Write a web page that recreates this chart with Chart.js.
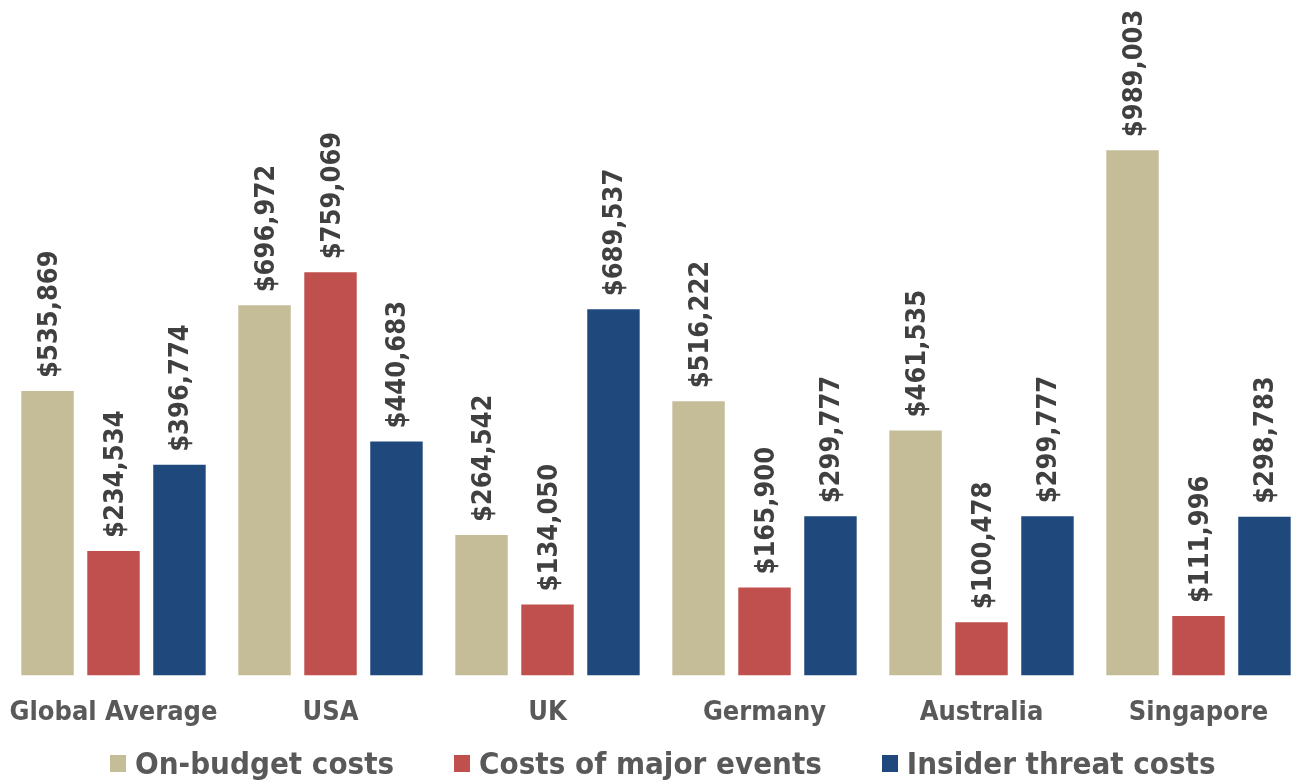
<!DOCTYPE html>
<html>
<head>
<meta charset="utf-8">
<script src="https://cdn.jsdelivr.net/npm/chart.js@4.4.1/dist/chart.umd.min.js"></script>
<style>
  html, body { margin: 0; padding: 0; background: #fff; overflow: hidden; }
  #wrap { position: relative; width: 1310px; height: 782px; }
  #legend {
    position: absolute; left: 110px; top: 745px;
    display: flex; gap: 60px; align-items: center;
    font: bold 31px "DejaVu Sans Condensed", "DejaVu Sans", sans-serif;
    color: #595959; white-space: nowrap;
  }
  #legend .item { display: flex; align-items: center; }
  #legend .box { width: 16px; height: 17px; margin-right: 9px; }
</style>
</head>
<body>
<div id="wrap">
  <canvas id="costs"></canvas>
  <div id="legend"></div>
</div>
<script>
const categories = ['Global Average', 'USA', 'UK', 'Germany', 'Australia', 'Singapore'];
const seriesNames = ['On-budget costs', 'Costs of major events', 'Insider threat costs'];
const onBudget = [535869, 696972, 264542, 516222, 461535, 989003];
const majorEvents = [234534, 759069, 134050, 165900, 100478, 111996];
const insiderThreat = [396774, 440683, 689537, 299777, 299777, 298783];
const colors = ['#C4BD97', '#C0504D', '#1F497D'];

const FONT = '"DejaVu Sans Condensed", "DejaVu Sans", sans-serif';

// vertical dollar labels above each bar
const barValues = {
  id: 'barValues',
  afterDatasetsDraw(chart) {
    const ctx = chart.ctx;
    ctx.save();
    ctx.font = 'bold 27px ' + FONT;
    ctx.fillStyle = '#404040';
    ctx.textAlign = 'left';
    ctx.textBaseline = 'middle';
    chart.data.datasets.forEach((ds, i) => {
      chart.getDatasetMeta(i).data.forEach((bar, j) => {
        const text = '$' + ds.data[j].toLocaleString('en-US');
        ctx.save();
        ctx.translate(bar.x + 2, bar.y - 13);
        ctx.rotate(-Math.PI / 2);
        ctx.fillText(text, 0, 0);
        ctx.restore();
      });
    });
    ctx.restore();
  }
};

// legend built as html under the chart
const htmlLegend = {
  id: 'htmlLegend',
  afterUpdate(chart) {
    const el = document.getElementById('legend');
    el.innerHTML = '';
    chart.data.datasets.forEach(ds => {
      const item = document.createElement('div');
      item.className = 'item';
      const box = document.createElement('span');
      box.className = 'box';
      box.style.background = ds.backgroundColor;
      const txt = document.createElement('span');
      txt.textContent = ds.label;
      item.appendChild(box);
      item.appendChild(txt);
      el.appendChild(item);
    });
  }
};

new Chart('costs', {
  type: 'bar',
  data: {
    labels: categories,
    datasets: [
      { label: seriesNames[0], data: onBudget, backgroundColor: colors[0] },
      { label: seriesNames[1], data: majorEvents, backgroundColor: colors[1] },
      { label: seriesNames[2], data: insiderThreat, backgroundColor: colors[2] }
    ]
  },
  options: {
    responsive: true,
    maintainAspectRatio: false,
    animation: false,
    layout: { padding: { left: 5, right: 3, top: 0, bottom: 50 } },
    datasets: {
      bar: { categoryPercentage: 0.912, barPercentage: 0.795 }
    },
    scales: {
      x: {
        // hidden tick marks, their length just spaces the labels off the bars
        grid: { display: false, drawTicks: true, tickLength: 18 },
        border: { display: false },
        ticks: {
          color: '#595959',
          font: { family: FONT, size: 27, weight: 'bold' },
          padding: 3,
          maxRotation: 0,
          autoSkip: false
        }
      },
      y: {
        display: false,
        min: 0,
        max: 1271600
      }
    },
    plugins: {
      tooltip: { enabled: false },
      legend: { display: false }
    }
  },
  plugins: [barValues, htmlLegend]
});
</script>
</body>
</html>
